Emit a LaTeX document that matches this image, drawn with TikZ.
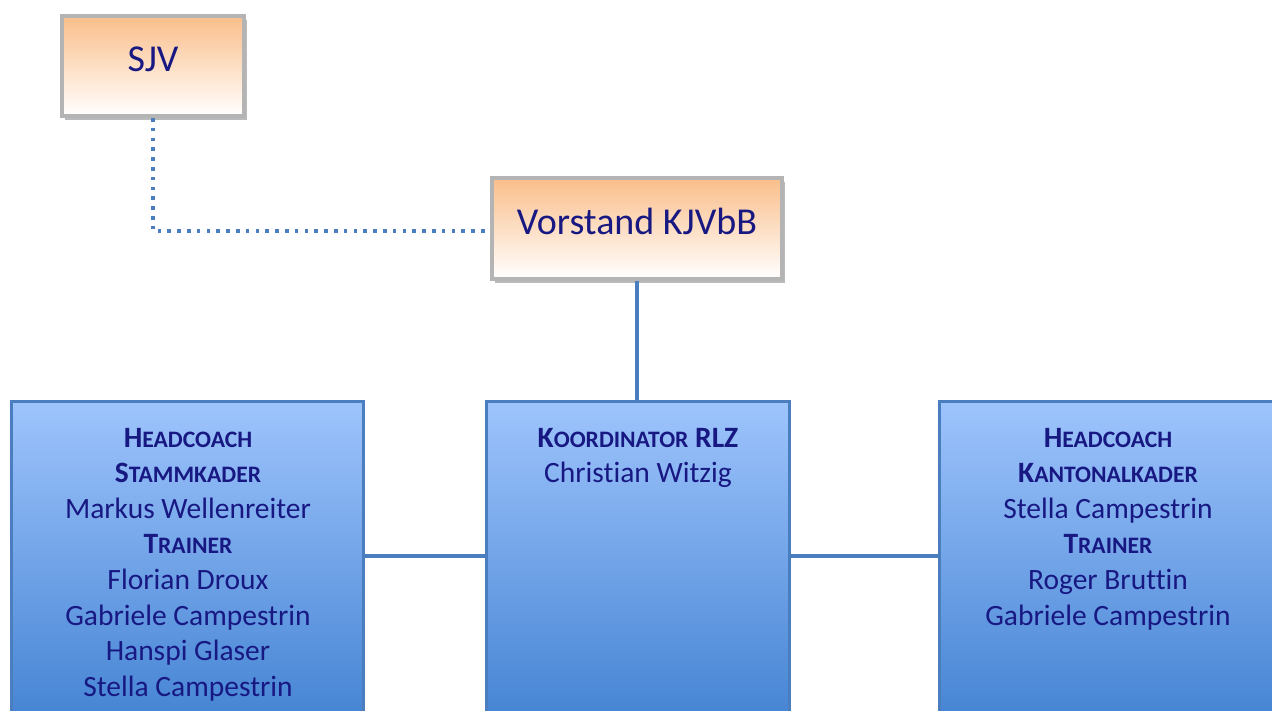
\documentclass[tikz,border=0pt]{standalone}
\usepackage{fontspec}
\setmainfont{Carlito}[Ligatures={NoCommon}]
\usetikzlibrary{shadows}
\definecolor{txt}{RGB}{24,24,130}
\definecolor{otop}{RGB}{250,190,138}
\definecolor{btop}{RGB}{158,196,252}
\definecolor{bmid}{RGB}{135,180,242}
\definecolor{bbot}{RGB}{66,130,210}
\definecolor{bline}{RGB}{75,126,190}
\definecolor{gframe}{RGB}{180,180,180}
\newcommand\fsc[2]{{\bfseries #1{\fontsize{23.6}{23.6}\selectfont #2}}}
\begin{document}
\begin{tikzpicture}[x=1pt,y=-1pt,
  topbox/.style={draw=gframe, line width=4pt, top color=otop, bottom color=white, inner sep=0pt,
    drop shadow={shadow xshift=2.5pt, shadow yshift=-3.5pt, opacity=0.45, fill=black!60},
    text=txt, font=\fontsize{38}{40}\selectfont, text height=24.5pt, text depth=13pt},
  bluebox/.style={draw=bline, line width=3pt, top color=btop, middle color=bmid, bottom color=bbot, inner sep=0pt},
  conn/.style={draw=bline, line width=3.5pt},
  dotconn/.style={draw=bline, line width=3.5pt, dash pattern=on 3.5pt off 6.3pt},
  line/.style={anchor=base, text=txt, font=\fontsize{29.5}{35.6}\selectfont, inner sep=0pt}]
\useasboundingbox (0,0) rectangle (1272,710);
\clip (0,0) rectangle (1272,710);
\fill[white] (0,0) rectangle (1272,710);
% connectors (drawn first, boxes on top)
\coordinate (mid) at (0,556);
% boxes
\node[topbox, minimum width=182pt, minimum height=100pt] (sjv) at (153,66) {SJV};
\node[topbox, minimum width=290pt, minimum height=101pt] (vor) at (637,228.5) {Vorstand KJVbB};
\node[bluebox, minimum width=352pt, minimum height=328.5pt] (left) at (187.5,565.5) {};
\node[bluebox, minimum width=303pt, minimum height=328.5pt] (koord) at (638,565.5) {};
\node[bluebox, minimum width=350pt, minimum height=328.5pt] (right) at (1114.5,565.5) {};
\draw[dotconn] (sjv.south) |- ([yshift=-2.5pt]vor.west);
\draw[conn] (vor.south) -- (vor.south |- koord.north);
\draw[conn] (left.east |- mid) -- (koord.west |- mid);
\draw[conn] (koord.east |- mid) -- (right.west |- mid);
% texts
\foreach \t [count=\i] in {{\fsc{H}{EADCOACH}},{\fsc{S}{TAMMKADER}},{Markus Wellenreiter},{\fsc{T}{RAINER}},{Florian Droux},{Gabriele Campestrin},{Hanspi Glaser},{Stella Campestrin}}
  \node[line] (l\i) at (188,{447+35.64*(\i-1)}) {\t};
\foreach \t [count=\i] in {{\fsc{K}{OORDINATOR} {\bfseries RLZ}},{Christian Witzig}}
  \node[line] (c\i) at (638,{447+35.64*(\i-1)}) {\t};
\foreach \t [count=\i] in {{\fsc{H}{EADCOACH}},{\fsc{K}{ANTONALKADER}},{Stella Campestrin},{\fsc{T}{RAINER}},{Roger Bruttin},{Gabriele Campestrin}}
  \node[line] (r\i) at (1108,{447+35.64*(\i-1)}) {\t};
\end{tikzpicture}
\end{document}
